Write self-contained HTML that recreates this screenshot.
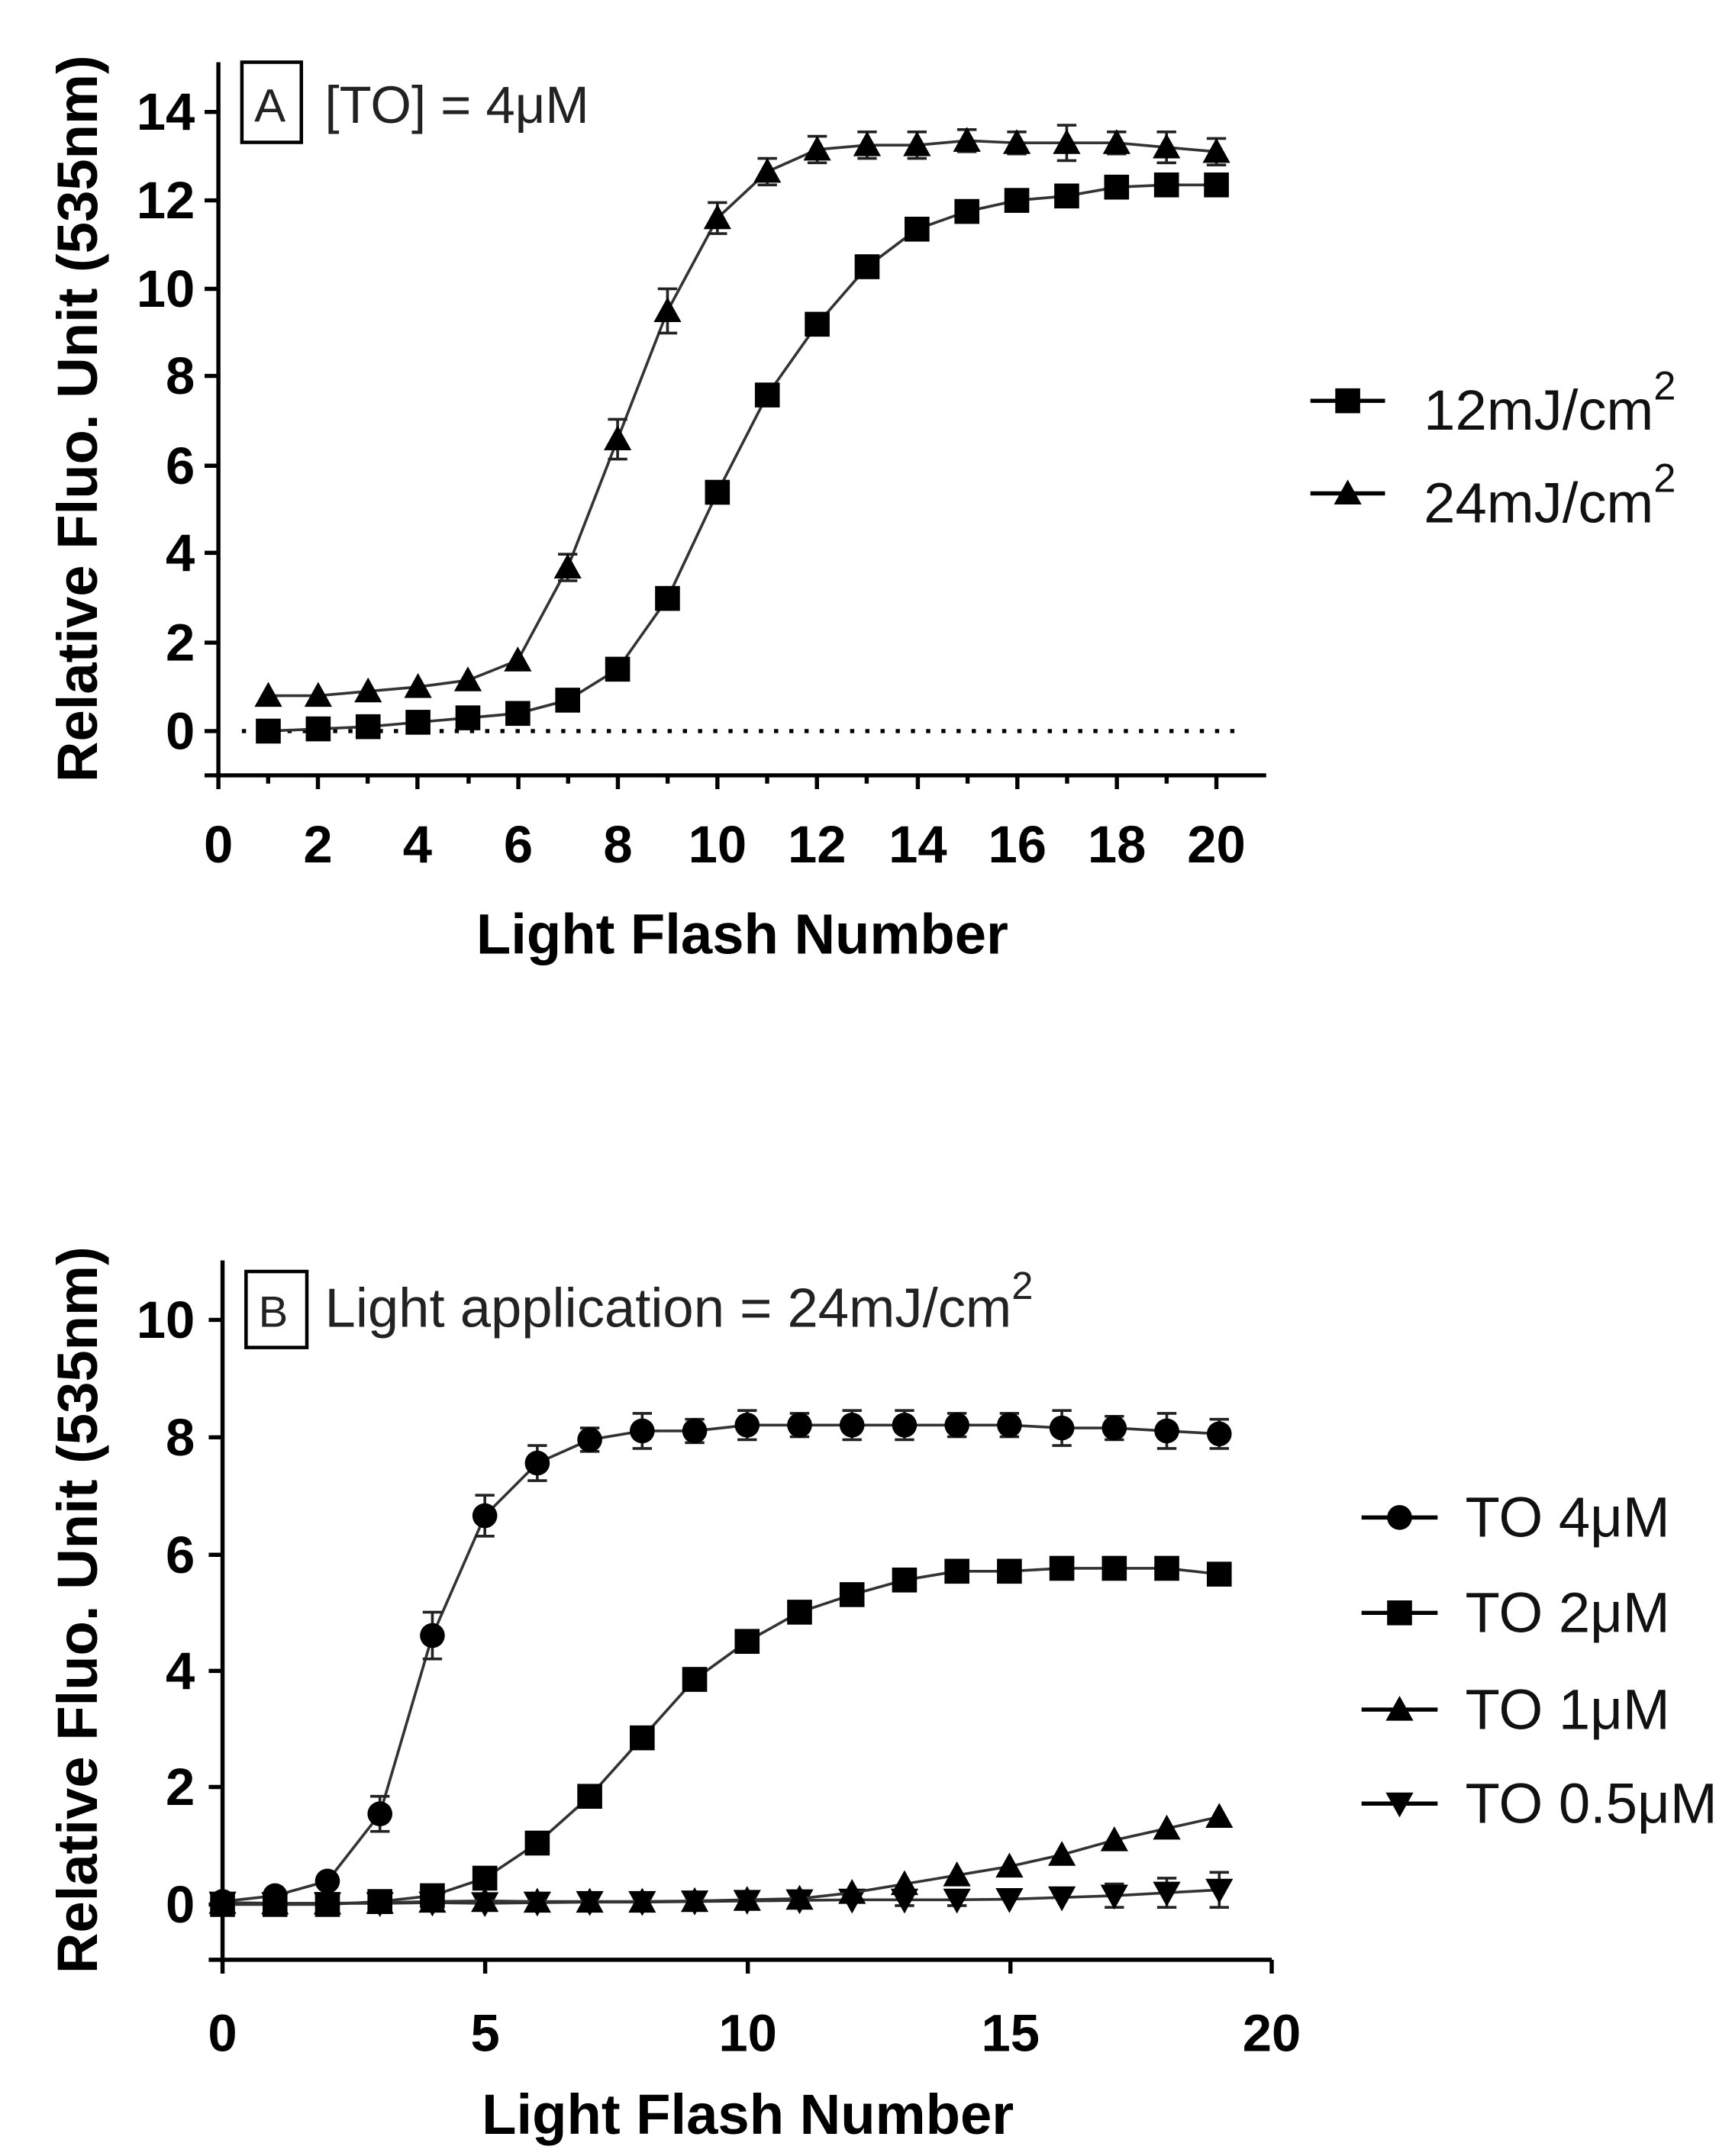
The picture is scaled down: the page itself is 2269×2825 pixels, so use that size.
<!DOCTYPE html>
<html><head><meta charset="utf-8"><style>html,body{margin:0;padding:0;background:#fff}svg{display:block}</style></head>
<body>
<svg id="s" width="2269" height="2825" viewBox="0 0 1253 1560" preserveAspectRatio="none" xmlns="http://www.w3.org/2000/svg" font-family="Liberation Sans, Arial, sans-serif">
<g stroke="#000" stroke-width="3" fill="none">
<path d="M158,45 V561 H916"/>
<path d="M158,81 h-10 M158,145 h-10 M158,209 h-10 M158,272 h-10 M158,337 h-10 M158,400 h-10 M158,465 h-10 M158,529 h-10 M158,561 h-10"/>
<path d="M158,561 v10 M194,561 v6 M230,561 v10 M266,561 v6 M302,561 v10 M339,561 v6 M375,561 v10 M411,561 v6 M447,561 v10 M483,561 v6 M519,561 v10 M555,561 v6 M591,561 v10 M627,561 v6 M664,561 v10 M700,561 v6 M736,561 v10 M772,561 v6 M808,561 v10 M844,561 v6 M880,561 v10"/>
<path d="M175,529 H900" stroke-dasharray="3 8" stroke-width="3"/>
<rect x="175" y="45" width="43" height="58" stroke-width="2.5"/>
<path d="M161,912 V1418 H920"/>
<path d="M161,955 h-10 M161,1040 h-10 M161,1125 h-10 M161,1209 h-10 M161,1293 h-10 M161,1378 h-10 M161,1418 h-10"/>
<path d="M161,1418 v10 M351,1418 v10 M541,1418 v10 M731,1418 v10 M920,1418 v10"/>
<rect x="178" y="920" width="44" height="55" stroke-width="2.5"/>
</g>
<g font-weight="bold" font-size="38" text-anchor="end">
<text x="141" y="94">14</text><text x="141" y="158">12</text><text x="141" y="222">10</text><text x="141" y="285">8</text><text x="141" y="350">6</text><text x="141" y="413">4</text><text x="141" y="478">2</text><text x="141" y="542">0</text>
<text x="141" y="968">10</text><text x="141" y="1053">8</text><text x="141" y="1138">6</text><text x="141" y="1222">4</text><text x="141" y="1306">2</text><text x="141" y="1391">0</text>
</g>
<g font-weight="bold" font-size="38" text-anchor="middle">
<text x="158" y="624">0</text><text x="230" y="624">2</text><text x="302" y="624">4</text><text x="375" y="624">6</text><text x="447" y="624">8</text><text x="519" y="624">10</text><text x="591" y="624">12</text><text x="664" y="624">14</text><text x="736" y="624">16</text><text x="808" y="624">18</text><text x="880" y="624">20</text>
<text x="161" y="1484">0</text><text x="351" y="1484">5</text><text x="541" y="1484">10</text><text x="731" y="1484">15</text><text x="920" y="1484">20</text>
</g>
<g font-weight="bold" font-size="41" text-anchor="middle">
<text x="537" y="690">Light Flash Number</text>
<text x="541" y="1544">Light Flash Number</text>
<text transform="translate(70,303) rotate(-90)">Relative Fluo. Unit (535nm)</text>
<text transform="translate(70,1165) rotate(-90)">Relative Fluo. Unit (535nm)</text>
</g>
<g font-size="38" fill="#222">
<text x="184" y="88" font-size="34">A</text><text x="235" y="89">[TO] = 4μM</text>
<text x="187" y="960" font-size="32">B</text><text x="235" y="960" font-size="40">Light application = 24mJ/cm<tspan dy="-20" font-size="28">2</tspan></text>
</g>
<g font-size="41" fill="#111">
<text x="1030" y="311">12mJ/cm<tspan dy="-22" font-size="29">2</tspan></text>
<text x="1030" y="378">24mJ/cm<tspan dy="-22" font-size="29">2</tspan></text>
<text x="1060" y="1112">TO 4μM</text><text x="1060" y="1181">TO 2μM</text><text x="1060" y="1251">TO 1μM</text><text x="1060" y="1319">TO 0.5μM</text>
</g>
<g id="d"></g>
</svg>
<script>
var g=document.getElementById('d'),NS='http://www.w3.org/2000/svg';
function el(t,a){var e=document.createElementNS(NS,t);for(var k in a)e.setAttribute(k,a[k]);g.appendChild(e);return e;}
function mk(type,x,y,s){s=s||9;
 if(type=='sq')el('rect',{x:x-s,y:y-s,width:2*s,height:2*s,fill:'#000'});
 else if(type=='ci')el('circle',{cx:x,cy:y,r:s,fill:'#000'});
 else if(type=='tu')el('polygon',{points:(x)+','+(y-s-1)+' '+(x-s-1)+','+(y+s-1)+' '+(x+s+1)+','+(y+s-1),fill:'#000'});
 else el('polygon',{points:(x)+','+(y+s+1)+' '+(x-s-1)+','+(y-s+1)+' '+(x+s+1)+','+(y-s+1),fill:'#000'});}
function series(X,Y,xs,ys,type,err){
 var p='';for(var i=0;i<xs.length;i++){p+=(i?'L':'M')+X(xs[i])+','+Y(ys[i]);}
 el('path',{d:p,stroke:'#333','stroke-width':2,fill:'none'});
 for(var i=0;i<xs.length;i++){var e=err?err[i]:0,x=X(xs[i]);
  if(e>0){var a=Y(ys[i]+e),b=Y(ys[i]-e);el('path',{d:'M'+x+','+a+'V'+b+'M'+(x-7)+','+a+'h14M'+(x-7)+','+b+'h14',stroke:'#222','stroke-width':2,fill:'none'});}
  mk(type,x,Y(ys[i]));}}
var XA=function(v){return 158+v*36.1},YA=function(v){return 529-v*32.0};
var xa=[];for(var i=1;i<=20;i++)xa.push(i);
series(XA,YA,xa,[0,0.05,0.1,0.2,0.3,0.4,0.7,1.4,3.0,5.4,7.6,9.2,10.5,11.35,11.75,12.0,12.1,12.3,12.35,12.35],'sq');
series(XA,YA,xa,[0.8,0.8,0.9,1.0,1.15,1.6,3.7,6.6,9.5,11.6,12.65,13.15,13.25,13.25,13.35,13.3,13.3,13.3,13.2,13.1],'tu',
 [0,0,0,0,0,0,0.3,0.45,0.5,0.35,0.3,0.3,0.3,0.3,0.25,0.25,0.4,0.25,0.35,0.3]);
var XB=function(v){return 161+v*37.95},YB=function(v){return 1378-v*42.3};
var xb=[];for(var i=0;i<=19;i++)xb.push(i);
series(XB,YB,xb,[0.03,0.02,0.02,0.02,0.03,0.02,0.03,0.04,0.04,0.05,0.06,0.07,0.08,0.08,0.08,0.09,0.12,0.15,0.2,0.25],'td',
 [0,0,0,0,0,0,0,0,0,0,0,0,0,0.1,0.1,0,0,0.2,0.25,0.3]);
series(XB,YB,xb,[0.03,0.02,0.02,0.03,0.05,0.06,0.05,0.05,0.05,0.06,0.08,0.1,0.2,0.35,0.5,0.65,0.85,1.1,1.3,1.5],'tu');
series(XB,YB,xb,[0,0,0,0.05,0.15,0.45,1.05,1.85,2.85,3.85,4.5,5.0,5.3,5.55,5.7,5.7,5.75,5.75,5.75,5.65],'sq');
series(XB,YB,xb,[0.05,0.15,0.4,1.55,4.6,6.65,7.55,7.95,8.1,8.1,8.2,8.2,8.2,8.2,8.2,8.2,8.15,8.15,8.1,8.05],'ci',
 [0,0,0,0.3,0.4,0.35,0.3,0.2,0.3,0.2,0.25,0.2,0.25,0.25,0.2,0.2,0.3,0.2,0.3,0.25]);
function leg(x1,x2,y,type){el('path',{d:'M'+x1+','+y+'H'+x2,stroke:'#000','stroke-width':3});mk(type,(x1+x2)/2,y,9);}
leg(948,1002,290,'sq');leg(948,1002,357,'tu');
leg(985,1040,1098,'ci');leg(985,1040,1167,'sq');leg(985,1040,1237,'tu');leg(985,1040,1305,'td');
</script>
</body></html>
